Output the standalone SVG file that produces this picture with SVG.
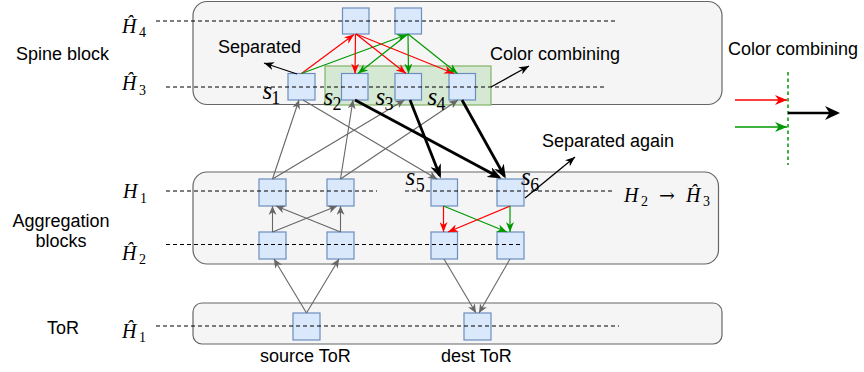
<svg xmlns="http://www.w3.org/2000/svg" width="864" height="372" viewBox="0 0 864 372">
  <style>
    .block { fill: #f5f5f5; stroke: #666666; stroke-width: 1.2; }
    .node { fill: #dae8fc; stroke: #6c8ebf; stroke-width: 1.2; }
    .combine { fill: #d5e8d4; stroke: #82b366; stroke-width: 1.2; }
    .level { stroke: #000000; stroke-width: 1.2; stroke-dasharray: 4 3; fill: none; }
    .gray { stroke: #666666; stroke-width: 1.1; fill: none; marker-end: url(#ah-gray); }
    .red { stroke: #ff0000; stroke-width: 1.2; fill: none; marker-end: url(#ah-red); }
    .green { stroke: #009900; stroke-width: 1.2; fill: none; marker-end: url(#ah-green); }
    .thick { stroke: #000000; stroke-width: 2.8; fill: none; marker-end: url(#ah-thick); }
    .thin { stroke: #000000; stroke-width: 1.3; fill: none; marker-end: url(#ah-black); }
    .lbl { font-family: "Liberation Sans", Arial, sans-serif; font-size: 18px; fill: #000000; }
    .math { font-family: "Liberation Serif", "Times New Roman", serif; font-style: italic; font-size: 20px; fill: #000000; }
    .sub { font-style: normal; font-size: 14px; }
    .arrow { font-family: "DejaVu Serif", serif; font-style: normal; font-size: 19px; }
    .svar { font-family: "Liberation Serif", "Times New Roman", serif; font-style: italic; font-size: 25px; fill: #000000; }
    .ssub { font-style: normal; font-size: 18px; }
  </style>
  <defs>
    <marker id="ah-gray" viewBox="0 0 10 10" refX="10" refY="5" markerWidth="9" markerHeight="8" markerUnits="userSpaceOnUse" orient="auto" preserveAspectRatio="none">
      <path d="M0,0 L10,5 L0,10 L3,5 Z" fill="#666666"/>
    </marker>
    <marker id="ah-red" viewBox="0 0 10 10" refX="10" refY="5" markerWidth="10" markerHeight="8" markerUnits="userSpaceOnUse" orient="auto" preserveAspectRatio="none">
      <path d="M0,0 L10,5 L0,10 L3,5 Z" fill="#ff0000"/>
    </marker>
    <marker id="ah-green" viewBox="0 0 10 10" refX="10" refY="5" markerWidth="10" markerHeight="8" markerUnits="userSpaceOnUse" orient="auto" preserveAspectRatio="none">
      <path d="M0,0 L10,5 L0,10 L3,5 Z" fill="#009900"/>
    </marker>
    <marker id="ah-red-lg" viewBox="0 0 10 10" refX="10" refY="5" markerWidth="12" markerHeight="10" markerUnits="userSpaceOnUse" orient="auto" preserveAspectRatio="none">
      <path d="M0,0 L10,5 L0,10 L3,5 Z" fill="#ff0000"/>
    </marker>
    <marker id="ah-green-lg" viewBox="0 0 10 10" refX="10" refY="5" markerWidth="12" markerHeight="10" markerUnits="userSpaceOnUse" orient="auto" preserveAspectRatio="none">
      <path d="M0,0 L10,5 L0,10 L3,5 Z" fill="#009900"/>
    </marker>
    <marker id="ah-black" viewBox="0 0 10 10" refX="10" refY="5" markerWidth="10" markerHeight="8" markerUnits="userSpaceOnUse" orient="auto" preserveAspectRatio="none">
      <path d="M0,0 L10,5 L0,10 L3,5 Z" fill="#000000"/>
    </marker>
    <marker id="ah-thick" viewBox="0 0 10 10" refX="8" refY="5" markerWidth="14" markerHeight="11" markerUnits="userSpaceOnUse" orient="auto" preserveAspectRatio="none">
      <path d="M0,0 L10,5 L0,10 L3,5 Z" fill="#000000"/>
    </marker>
    <marker id="ah-thick-lg" viewBox="0 0 10 10" refX="8" refY="5" markerWidth="15" markerHeight="14" markerUnits="userSpaceOnUse" orient="auto" preserveAspectRatio="none">
      <path d="M0,0 L10,5 L0,10 L3,5 Z" fill="#000000"/>
    </marker>
  </defs>

  <!-- tier containers -->
  <g id="spine-block"><rect class="block" x="193" y="1.5" width="529" height="103" rx="14"/></g>
  <g id="aggregation-blocks"><rect class="block" x="193" y="172" width="525.5" height="92" rx="14"/></g>
  <g id="tor-block"><rect class="block" x="193" y="303" width="529" height="41" rx="9"/></g>
  <g id="combine-region"><rect class="combine" x="325" y="66" width="166" height="39"/></g>

  <!-- switches -->
  <g id="spine-top-1"><rect class="node" x="342.5" y="8" width="26.5" height="26"/></g>
  <g id="spine-top-2"><rect class="node" x="395" y="8" width="26.5" height="26"/></g>
  <g id="s1"><rect class="node" x="288" y="73.5" width="27" height="26.5"/></g>
  <g id="s2"><rect class="node" x="341.5" y="73.5" width="26.5" height="26.5"/></g>
  <g id="s3"><rect class="node" x="395" y="73.5" width="26.5" height="26.5"/></g>
  <g id="s4"><rect class="node" x="449" y="73.5" width="26.5" height="26.5"/></g>
  <g id="agg-a1"><rect class="node" x="259" y="179" width="27" height="27"/></g>
  <g id="agg-a2"><rect class="node" x="327" y="179" width="27" height="27"/></g>
  <g id="s5"><rect class="node" x="431" y="179" width="26.5" height="27"/></g>
  <g id="s6"><rect class="node" x="497" y="179" width="27" height="27"/></g>
  <g id="agg-b1"><rect class="node" x="259" y="232" width="27" height="27"/></g>
  <g id="agg-b2"><rect class="node" x="327" y="232" width="27" height="27"/></g>
  <g id="agg-b3"><rect class="node" x="431" y="232" width="26.5" height="27"/></g>
  <g id="agg-b4"><rect class="node" x="497" y="232" width="27" height="27"/></g>
  <g id="source-tor"><rect class="node" x="293" y="313" width="27" height="27"/></g>
  <g id="dest-tor"><rect class="node" x="464" y="313" width="27" height="27"/></g>

  <!-- hierarchy levels -->
  <g id="levels">
    <line class="level" x1="156" y1="21" x2="618" y2="21"/>
    <line class="level" x1="166" y1="87" x2="607" y2="87"/>
    <line class="level" x1="166" y1="191" x2="377" y2="191"/>
    <line class="level" x1="405" y1="191" x2="614" y2="191"/>
    <line class="level" x1="166" y1="244.5" x2="520" y2="244.5"/>
    <line class="level" x1="156" y1="326" x2="619" y2="326"/>
  </g>

  <g id="connectors">
    <!-- spine: s1 up, top row down -->
    <line class="red" x1="301.5" y1="73.5" x2="354" y2="34.5"/>
    <line class="green" x1="301.5" y1="73.5" x2="407" y2="34.5"/>
    <line class="red" x1="355.5" y1="34" x2="355" y2="73.5"/>
    <line class="red" x1="356" y1="34" x2="406" y2="73.5"/>
    <line class="red" x1="356" y1="34" x2="454" y2="73.5"/>
    <line class="green" x1="408" y1="34" x2="358" y2="73.5"/>
    <line class="green" x1="408" y1="34" x2="408.5" y2="73.5"/>
    <line class="green" x1="408" y1="34" x2="457.5" y2="73.5"/>

    <!-- aggregation to spine -->
    <line class="gray" x1="272.5" y1="179" x2="299" y2="100"/>
    <line class="gray" x1="272.5" y1="179" x2="404.5" y2="100"/>
    <line class="gray" x1="340.5" y1="179" x2="353" y2="100"/>
    <line class="gray" x1="340.5" y1="179" x2="458" y2="100"/>
    <line class="gray" x1="303" y1="100" x2="437" y2="179"/>

    <!-- spine to destination block -->
    <line class="thick" x1="355" y1="100" x2="499" y2="177.3"/>
    <line class="thick" x1="410" y1="100" x2="439.8" y2="175.6"/>
    <line class="thick" x1="462" y1="100" x2="504.4" y2="176"/>

    <!-- inside aggregation blocks -->
    <line class="gray" x1="272.5" y1="232" x2="272.5" y2="206"/>
    <line class="gray" x1="272.5" y1="232" x2="337" y2="206"/>
    <line class="gray" x1="340.5" y1="232" x2="340.5" y2="206"/>
    <line class="gray" x1="340.5" y1="232" x2="276" y2="206"/>
    <line class="red" x1="443.5" y1="206" x2="443.5" y2="232"/>
    <line class="green" x1="443.5" y1="206" x2="507" y2="232"/>
    <line class="red" x1="510" y1="206" x2="448" y2="232"/>
    <line class="green" x1="510" y1="206" x2="510" y2="232"/>

    <!-- ToR links -->
    <line class="gray" x1="306.5" y1="313" x2="274" y2="259"/>
    <line class="gray" x1="306.5" y1="313" x2="339" y2="259"/>
    <line class="gray" x1="444" y1="259" x2="476" y2="313"/>
    <line class="gray" x1="510" y1="259" x2="479" y2="313"/>

    <!-- callout arrows -->
    <line class="thin" x1="297" y1="74" x2="264" y2="63"/>
    <line class="thin" x1="491" y1="87" x2="529" y2="66"/>
    <line class="thin" x1="525" y1="198" x2="575" y2="157"/>

    <!-- legend -->
    <line x1="788" y1="72" x2="788" y2="165" stroke="#009900" stroke-width="1.5" stroke-dasharray="3.5 3"/>
    <line x1="735" y1="100" x2="787" y2="100" stroke="#ff0000" stroke-width="1.3" marker-end="url(#ah-red-lg)"/>
    <line x1="735" y1="127" x2="787" y2="127" stroke="#009900" stroke-width="1.3" marker-end="url(#ah-green-lg)"/>
    <line x1="788" y1="113" x2="837" y2="113" stroke="#000000" stroke-width="2.6" marker-end="url(#ah-thick-lg)"/>
  </g>

  <!-- labels -->
  <g id="labels">
    <text class="lbl" x="16" y="60">Spine block</text>
    <text class="lbl" x="61" y="227" text-anchor="middle">Aggregation</text>
    <text class="lbl" x="61" y="247" text-anchor="middle">blocks</text>
    <text class="lbl" x="47" y="334">ToR</text>
    <text class="lbl" x="218" y="53">Separated</text>
    <text class="lbl" x="490" y="60">Color combining</text>
    <text class="lbl" x="728" y="55">Color combining</text>
    <text class="lbl" x="542" y="147">Separated again</text>
    <text class="lbl" x="260" y="361.5">source ToR</text>
    <text class="lbl" x="441" y="361.5">dest ToR</text>

    <text class="math" x="122" y="33.3">Ĥ<tspan class="sub" x="139" y="37.3">4</tspan></text>
    <text class="math" x="122" y="90">Ĥ<tspan class="sub" x="139" y="94.5">3</tspan></text>
    <text class="math" x="123" y="198.3">H<tspan class="sub" x="140" y="202.7">1</tspan></text>
    <text class="math" x="122" y="259.5">Ĥ<tspan class="sub" x="139" y="263.5">2</tspan></text>
    <text class="math" x="122" y="338">Ĥ<tspan class="sub" x="139" y="342">1</tspan></text>
    <text class="math" x="624" y="201.7">H<tspan class="sub" x="641" y="205.7">2</tspan><tspan class="arrow" x="659" y="201.7">→</tspan><tspan x="686" y="201.7">Ĥ</tspan><tspan class="sub" x="703" y="205.7">3</tspan></text>

    <text class="svar" x="262.5" y="99">s<tspan class="ssub" x="271.3" y="103.5">1</tspan></text>
    <text class="svar" x="323.5" y="105">s<tspan class="ssub" x="332.6" y="109.5">2</tspan></text>
    <text class="svar" x="375.5" y="105">s<tspan class="ssub" x="384.6" y="109.5">3</tspan></text>
    <text class="svar" x="427.5" y="105">s<tspan class="ssub" x="436.6" y="109.5">4</tspan></text>
    <text class="svar" x="405.5" y="185">s<tspan class="ssub" x="415.8" y="190.5">5</tspan></text>
    <text class="svar" x="521" y="185">s<tspan class="ssub" x="530.3" y="190.5">6</tspan></text>
  </g>
</svg>
